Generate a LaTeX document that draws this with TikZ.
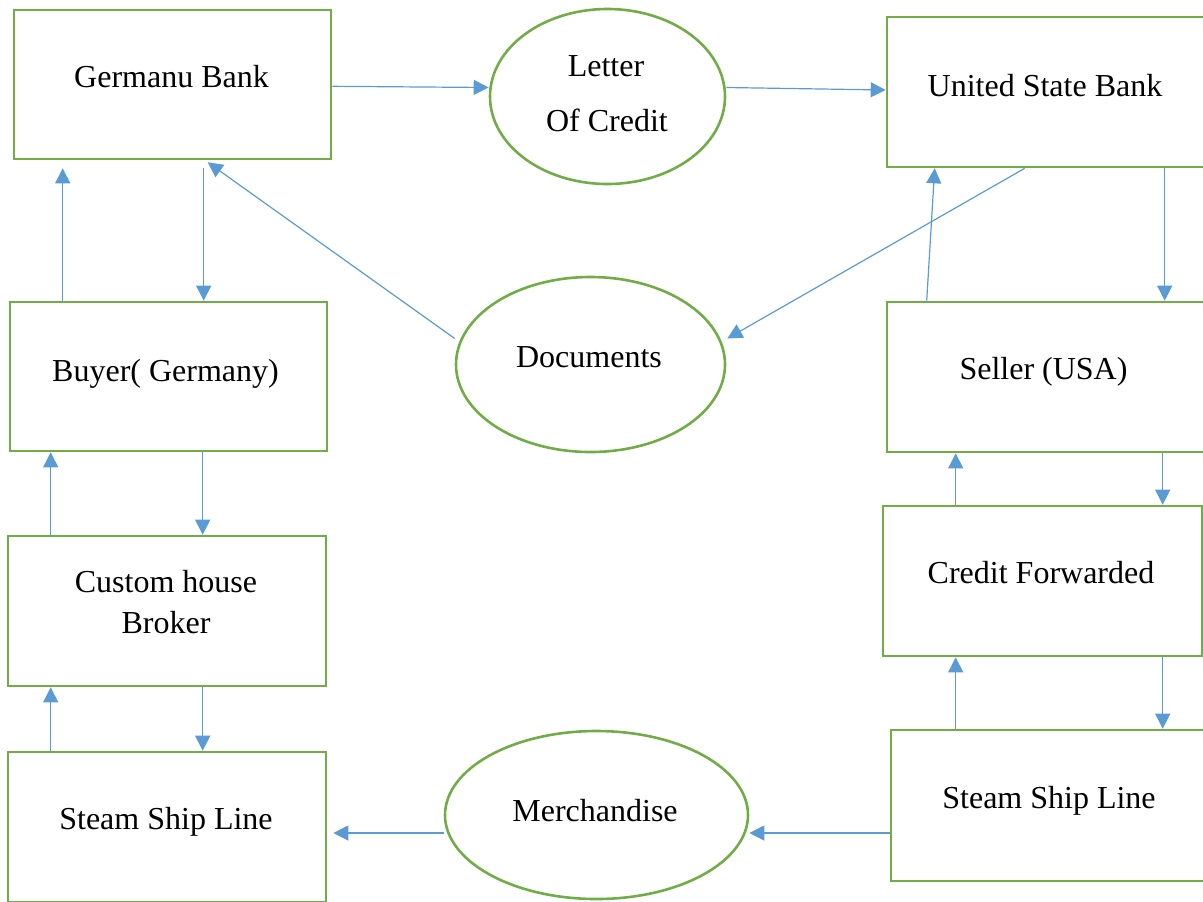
\documentclass[tikz,border=0pt]{standalone}
\usepackage{fontspec}
\setmainfont{Liberation Serif}
\usetikzlibrary{arrows.meta,shapes.geometric,calc}
\definecolor{gborder}{HTML}{70AD47}
\definecolor{bline}{HTML}{5B9BD5}
\tikzset{
  box/.style={draw=gborder, line width=1.3pt, rectangle, inner sep=0pt},
  oval/.style={draw=gborder, line width=1.3pt, ellipse, inner sep=0pt},
  lbl/.style={anchor=base, inner sep=0pt, font=\fontsize{16}{19}\selectfont},
  flow/.style={draw=bline, line width=0.6pt, -{Triangle[length=7.5pt,width=7.5pt]}}
}
\begin{document}
\begin{tikzpicture}[x=0.5pt,y=-0.5pt]
\useasboundingbox (0,0) rectangle (1203,901);
\begin{scope}
\clip (0,0) rectangle (1203,901);
% boxes
\node[box, minimum width=158.5pt, minimum height=74.5pt] (gb) at (172.5,84.5) {};
\node[box, minimum width=158.5pt, minimum height=75pt] (usb) at (1045.5,92) {};
\node[box, minimum width=158.5pt, minimum height=74.5pt] (buyer) at (168.5,376.5) {};
\node[box, minimum width=158.5pt, minimum height=75pt] (seller) at (1045.5,377) {};
\node[box, minimum width=159pt, minimum height=75pt] (chb) at (167,611) {};
\node[box, minimum width=159.5pt, minimum height=75pt] (cf) at (1042.5,581) {};
\node[box, minimum width=159pt, minimum height=75pt] (ssl) at (167,827) {};
\node[box, minimum width=158.5pt, minimum height=75.5pt] (ssr) at (1049.5,805.5) {};
% ellipses
\node[oval, minimum width=117.5pt, minimum height=87.5pt] (loc) at (607.5,96.5) {};
\node[oval, minimum width=134.5pt, minimum height=87.5pt] (doc) at (590.5,364.5) {};
\node[oval, minimum width=151.5pt, minimum height=84pt] (mer) at (596.5,815) {};
% texts
\node[lbl] (gbt) at (171.5,87) {Germanu Bank};
\node[lbl] (loct1) at (606,76) {Letter};
\node[lbl] (loct2) at (607,131) {Of Credit};
\node[lbl] (usbt) at (1045,96) {United State Bank};
\node[lbl] (buyert) at (165.5,381) {Buyer( Germany)};
\node[lbl] (doct) at (589,367) {Documents};
\node[lbl] (sellert) at (1043.5,379) {Seller (USA)};
\node[lbl] (chbt1) at (166,592) {Custom house};
\node[lbl] (chbt2) at (166,633) {Broker};
\node[lbl] (cft) at (1041,583) {Credit Forwarded};
\node[lbl] (sslt) at (166,829) {Steam Ship Line};
\node[lbl] (ssrt) at (1049,808) {Steam Ship Line};
\node[lbl] (mert) at (595,821) {Merchandise};
% connectors
\draw[flow] ($(gb.south east)+(0,-74)$) -- ($(loc.west)+(0,-9)$);
\draw[flow] ($(loc.east)+(0,-9)$) -- ($(usb.west)+(0,-2)$);
\draw[flow] ($(usb.south west)+(139,0)$) -- ($(doc.east)+(1,-26)$);
\draw[flow] ($(doc.west)+(0,-26)$) -- ($(gb.south west)+(195,2)$);
\draw[flow] ($(gb.south west)+(191,8)$) -- ($(buyer.north west)+(195,0)$);
\draw[flow] ($(buyer.north west)+(54,0)$) -- ($(gb.south west)+(50,8)$);
\draw[flow] ($(seller.north west)+(41,0)$) -- ($(usb.south west)+(49,0)$);
\draw[flow] ($(usb.south west)+(279,0)$) -- ($(seller.north west)+(279,0)$);
\draw[flow] ($(chb.north west)+(44,0)$) -- ($(buyer.south west)+(42,0)$);
\draw[flow] ($(buyer.south west)+(194,0)$) -- ($(chb.north west)+(196,0)$);
\draw[flow] ($(ssl.north west)+(44,0)$) -- ($(chb.south west)+(44,0)$);
\draw[flow] ($(chb.south west)+(196,0)$) -- ($(ssl.north west)+(196,0)$);
\draw[flow] ($(cf.north west)+(74,0)$) -- ($(seller.south west)+(70,0)$);
\draw[flow] ($(seller.south west)+(277,0)$) -- ($(cf.north west)+(281,0)$);
\draw[flow] ($(ssr.north west)+(66,0)$) -- ($(cf.south west)+(74,0)$);
\draw[flow] ($(cf.south west)+(281,0)$) -- ($(ssr.north west)+(273,0)$);
\draw[flow] ($(ssr.west)+(0,27.5)$) -- ($(mer.east)+(0,18)$);
\draw[flow] ($(mer.west)+(0,18)$) -- ($(ssl.east)+(6,6)$);
\end{scope}
\end{tikzpicture}
\end{document}
